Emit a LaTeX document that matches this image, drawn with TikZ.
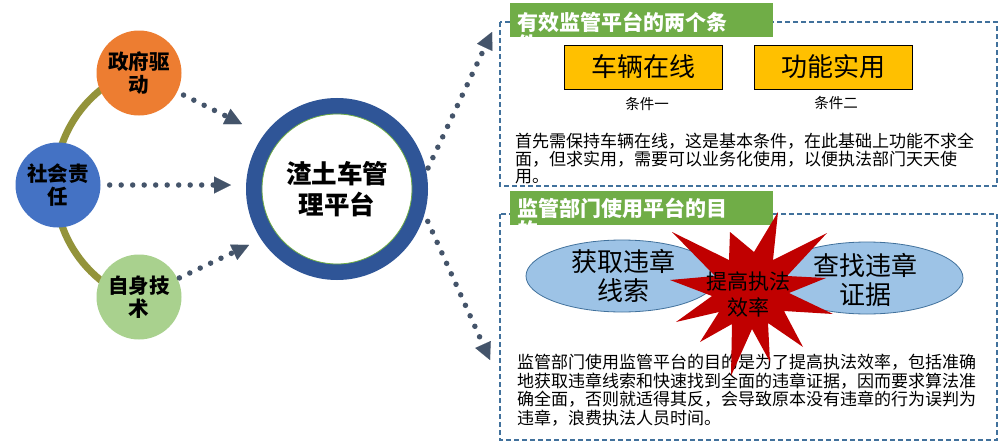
\documentclass[tikz,border=0pt]{standalone}
\usepackage{fontspec}
\setmainfont{Noto Sans CJK SC}
\usetikzlibrary{arrows.meta,shapes.geometric}
\definecolor{govc}{HTML}{ED7D31}
\definecolor{socc}{HTML}{4472C4}
\definecolor{techc}{HTML}{A9D18E}
\definecolor{ringblue}{HTML}{2F5597}
\definecolor{arrowc}{HTML}{44546A}
\definecolor{arcc}{HTML}{93933A}
\definecolor{barg}{HTML}{70AD47}
\definecolor{boxb}{HTML}{41719C}
\definecolor{goldc}{HTML}{FFC000}
\definecolor{ellc}{HTML}{9DC3E6}
\definecolor{starc}{HTML}{C00000}
\begin{document}
\begin{tikzpicture}[x=1pt,y=-1pt,
  ball/.style={circle, minimum size=85pt, inner sep=0pt, align=center,
    font=\bfseries\fontsize{20.5}{23.5}\selectfont},
  dotarrow/.style={draw=arrowc, line width=5.5pt, line cap=round,
    dash pattern=on 0pt off 11.5pt,
    -{Triangle[length=17pt,width=17pt,line width=0.01pt]}},
  dashbox/.style={draw=boxb, line width=1.4pt, dash pattern=on 5pt off 3pt},
  bartext/.style={anchor=base west, text width=260pt, align=left, inner sep=0pt,
    text=white, font=\bfseries\fontsize{21}{22}\selectfont},
  goldbox/.style={draw=black, line width=1pt, fill=goldc, minimum width=158pt,
    minimum height=44pt, inner sep=0pt, font=\fontsize{26}{28}\selectfont},
  small/.style={inner sep=0pt, font=\fontsize{14.5}{16}\selectfont},
  para/.style={anchor=base west, text width=475pt, align=left, inner sep=0pt},
  elltext/.style={inner sep=0pt, align=center, font=\fontsize{26}{29}\selectfont}
]
\useasboundingbox[fill=white] (0,0) rectangle (1007,447);

% arc linking the three drivers
\draw[arcc, line width=7pt] (177,185) ++(109:122) arc[start angle=109, end angle=251, radius=122];

% driver circles
\node[ball, fill=govc] (gov) at (139,73) {政府驱\\动};
\node[ball, fill=socc] (soc) at (58,185) {社会责\\任};
\node[ball, fill=techc] (tech) at (139,297) {自身技\\术};

% central ring
\node[circle, minimum size=166pt, draw=ringblue, line width=16pt, fill=white,
  inner sep=0pt, align=center, font=\bfseries\fontsize{25.5}{31.5}\selectfont]
  (ring) at (337,189) {渣土车管\\理平台};
\draw[barg, line width=0.8pt] (ring.center) circle[radius=75];

% arrow tips
\coordinate (t1) at (242,124);
\coordinate (t2) at (231,185);
\coordinate (t3) at (249,245);
\coordinate (t4) at (492,32);
\coordinate (t5) at (490,360);
\draw[dotarrow, shorten <=7pt] (gov) -- (t1);
\draw[dotarrow, shorten <=9pt] (soc) -- (t2);
\draw[dotarrow, shorten <=2pt] (tech) -- (t3);
\draw[dotarrow, shorten <=4pt] (ring.11) -- (t4);
\draw[dotarrow, shorten <=8pt] (ring.-16) -- (t5);

% ---- top box ----
\draw[dashbox] (500,22) rectangle (997,186);
\fill[barg] (510,3) rectangle (773,37);
\begin{scope}
  \clip (510,3) rectangle (773,37);
  \node[bartext] (title1) at (517,30) {有效监管平台的两个条\\件};
\end{scope}
\node[goldbox] (c1) at (643,67) {车辆在线};
\node[goldbox] (c2) at (833.5,67) {功能实用};
\node[small] (l1) at (647,104) {条件一};
\node[small] (l2) at (836,103) {条件二};
\node[para, font=\fontsize{17}{17.6}\selectfont] (p1) at (515,147.5)
  {首先需保持车辆在线，这是基本条件，在此基础上功能不求全\\面，但求实用，需要可以业务化使用，以便执法部门天天使\\用。};

% ---- bottom box ----
\draw[dashbox] (500,214) rectangle (997,440);
\fill[barg] (510,191) rectangle (773,225);
\begin{scope}
  \clip (510,191) rectangle (773,225);
  \node[bartext] (title2) at (517,216) {监管部门使用平台的目\\的};
\end{scope}
\draw[draw=boxb, fill=ellc, line width=0.8pt] (622,276) ellipse[x radius=96, y radius=36];
\draw[draw=boxb, fill=ellc, line width=0.8pt] (867,278) ellipse[x radius=96, y radius=36];
\node[elltext] (e1) at (623,276) {获取违章\\线索};
\node[elltext] (e2) at (865,280) {查找违章\\证据};
\node[para, font=\fontsize{17}{18.7}\selectfont] (p2) at (517,368.5)
  {监管部门使用监管平台的目的是为了提高执法效率，包括准确\\地获取违章线索和快速找到全面的违章证据，因而要求算法准\\确全面，否则就适得其反，会导致原本没有违章的行为误判为\\违章，浪费执法人员时间。};

% explosion
\fill[starc] (778,212) -- (773,260) -- (827,233) -- (787,276) -- (826,278)
  -- (789,293) -- (833,314) -- (784,311) -- (803,347) -- (768,323)
  -- (770,362) -- (752,329) -- (731,376) -- (732,324) -- (700,342)
  -- (719,312) -- (676,322) -- (712,296) -- (670,280) -- (715,276)
  -- (672,232) -- (729,260) -- (730,232) -- (754,252) -- cycle;
\node[inner sep=0pt, align=center, font=\fontsize{21}{26}\selectfont] (st) at (748,295) {提高执法\\效率};
\end{tikzpicture}
\end{document}
